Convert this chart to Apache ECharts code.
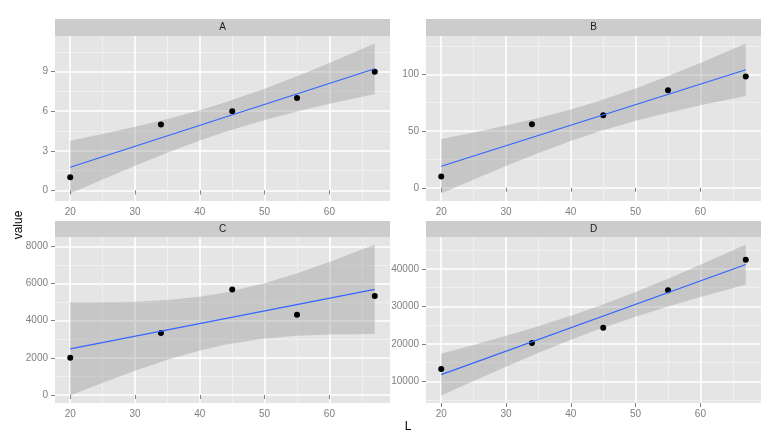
<!DOCTYPE html>
<html>
<head>
<meta charset="utf-8">
<style>
  html, body { margin: 0; padding: 0; background: #fff; }
  #main { width: 780px; height: 446px; }
</style>
<script src="https://cdn.jsdelivr.net/npm/echarts@6/dist/echarts.min.js"></script>
</head>
<body>
<div id="main"></div>
<script>
// x values shared by every facet
const xs = [20, 34, 45, 55, 67];
const fitX = [20, 67];
const bandX = [20, 25, 30, 35, 40, 44.2, 50, 55, 60, 67];

const panelNames = ["A", "B", "C", "D"];

const yA = [1, 5, 6, 7, 9];
const fitA = [1.76, 9.22];
const lowA = [-0.23, 0.83, 1.87, 2.86, 3.78, 4.49, 5.34, 5.98, 6.56, 7.30];
const upA = [3.76, 4.28, 4.82, 5.42, 6.08, 6.71, 7.70, 8.65, 9.66, 11.13];

const yB = [10, 56, 64, 86, 98];
const fitB = [19.0, 104.06];
const lowB = [-5.04, 7.30, 19.29, 30.73, 41.34, 49.38, 59.05, 66.24, 72.69, 80.97];
const upB = [43.04, 48.80, 54.91, 61.57, 69.06, 76.22, 87.55, 98.46, 110.09, 127.15];

const yC = [2000, 3330, 5680, 4320, 5330];
const fitC = [2484, 5685];
const lowC = [-22, 661, 1308, 1898, 2401, 2732, 3041, 3188, 3258, 3277];
const upC = [4990, 4988, 5022, 5113, 5291, 5532, 6013, 6547, 7158, 8093];

const yD = [13300, 20200, 24300, 34300, 42500];
const fitD = [11764, 41200];
const lowD = [6204, 10096, 13908, 17593, 21084, 23816, 27258, 29959, 32491, 35860];
const upD = [17324, 19694, 22146, 24723, 27496, 30024, 33848, 37409, 41141, 46540];

// tick labels
const xTicks = [20, 30, 40, 50, 60];
const xMinor = [25, 35, 45, 55, 65];
const yTicksA = [0, 3, 6, 9], yMinorA = [1.5, 4.5, 7.5, 10.5];
const yTicksB = [0, 50, 100], yMinorB = [25, 75, 125];
const yTicksC = [0, 2000, 4000, 6000, 8000], yMinorC = [1000, 3000, 5000, 7000];
const yTicksD = [10000, 20000, 30000, 40000], yMinorD = [5000, 15000, 25000, 35000, 45000];

const panels = [
  { y: yA, fit: fitA, low: lowA, up: upA, ticks: yTicksA, minor: yMinorA, ymin: -0.8, ymax: 11.7 },
  { y: yB, fit: fitB, low: lowB, up: upB, ticks: yTicksB, minor: yMinorB, ymin: -11.65, ymax: 133.8 },
  { y: yC, fit: fitC, low: lowC, up: upC, ticks: yTicksC, minor: yMinorC, ymin: -428, ymax: 8499 },
  { y: yD, fit: fitD, low: lowD, up: upD, ticks: yTicksD, minor: yMinorD, ymin: 4187, ymax: 48557 }
];

const boxes = [
  { left: 55, top: 36, height: 165 },
  { left: 426, top: 36, height: 165 },
  { left: 55, top: 237, height: 166 },
  { left: 426, top: 237, height: 166 }
];
const boxW = 335;
const font = "Liberation Sans";
const labelGrey = "#7F7F7F";
const plain = v => String(v);

const grid = [], xAxis = [], yAxis = [], series = [], graphic = [];

panels.forEach((p, i) => {
  const b = boxes[i];
  grid.push({
    left: b.left, top: b.top, width: boxW, height: b.height,
    show: true, backgroundColor: "#E5E5E5", borderWidth: 0,
    containLabel: false, outerBoundsMode: "none"
  });

  const major = 2 * i;
  xAxis.push({
    type: "value", gridIndex: i, min: 17.65, max: 69.35,
    axisLine: { show: false },
    axisTick: { show: true, length: 4, customValues: xTicks, lineStyle: { color: labelGrey } },
    axisLabel: { customValues: xTicks, formatter: plain, margin: 6, color: labelGrey, fontSize: 10, fontFamily: font },
    splitLine: { show: true, lineStyle: { color: "#FFFFFF", width: 1.6 } }
  });
  xAxis.push({
    type: "value", gridIndex: i, min: 17.65, max: 69.35,
    axisLine: { show: false },
    axisTick: { show: false, customValues: xMinor },
    axisLabel: { show: false, customValues: xMinor },
    splitLine: { show: true, lineStyle: { color: "#F2F2F2", width: 0.8 } }
  });
  yAxis.push({
    type: "value", gridIndex: i, min: p.ymin, max: p.ymax,
    axisLine: { show: false },
    axisTick: { show: true, length: 4, customValues: p.ticks, lineStyle: { color: labelGrey } },
    axisLabel: { customValues: p.ticks, formatter: plain, margin: 7, color: labelGrey, fontSize: 10, fontFamily: font },
    splitLine: { show: true, lineStyle: { color: "#FFFFFF", width: 1.6 } }
  });
  yAxis.push({
    type: "value", gridIndex: i, min: p.ymin, max: p.ymax,
    axisLine: { show: false },
    axisTick: { show: false, customValues: p.minor },
    axisLabel: { show: false, customValues: p.minor },
    splitLine: { show: true, lineStyle: { color: "#F2F2F2", width: 0.8 } }
  });

  // confidence band as one polygon through the lower and upper edges
  series.push({
    type: "custom", xAxisIndex: major, yAxisIndex: major, silent: true,
    data: bandX.map((x, k) => [x, p.low[k], p.up[k]]),
    encode: { x: 0, y: [1, 2] },
    renderItem: function (params, api) {
      if (params.dataIndex !== 0) return;
      const lower = bandX.map((x, k) => api.coord([x, p.low[k]]));
      const upper = bandX.map((x, k) => api.coord([x, p.up[k]])).reverse();
      return {
        type: "polygon",
        shape: { points: lower.concat(upper) },
        style: { fill: "rgba(153,153,153,0.4)" }
      };
    }
  });
  // points
  series.push({
    type: "scatter", xAxisIndex: major, yAxisIndex: major,
    symbolSize: 6, itemStyle: { color: "#000000", opacity: 1 },
    data: xs.map((x, k) => [x, p.y[k]])
  });
  // fitted line
  series.push({
    type: "line", xAxisIndex: major, yAxisIndex: major,
    symbol: "none", lineStyle: { color: "#3366FF", width: 1.2 },
    data: fitX.map((x, k) => [x, p.fit[k]])
  });

  // facet strip
  const stripTop = i < 2 ? 19 : 221;
  graphic.push({
    type: "rect", left: b.left, top: stripTop,
    shape: { width: boxW, height: b.top - stripTop },
    style: { fill: "#CCCCCC" }, silent: true
  });
  graphic.push({
    type: "text", x: b.left + boxW / 2, y: stripTop + (b.top - stripTop) / 2,
    style: {
      text: panelNames[i], fill: "#1A1A1A", fontSize: 10, fontFamily: font,
      align: "center", verticalAlign: "middle"
    }, silent: true
  });
});

graphic.push({
  type: "text", x: 19, y: 225, rotation: Math.PI / 2,
  style: { text: "value", fill: "#000", fontSize: 12, fontFamily: font, align: "center", verticalAlign: "middle" }
});
graphic.push({
  type: "text", x: 408, y: 427,
  style: { text: "L", fill: "#000", fontSize: 12, fontFamily: font, align: "center", verticalAlign: "middle" }
});

const chart = echarts.init(document.getElementById("main"), null, { renderer: "canvas" });
chart.setOption({
  animation: false,
  backgroundColor: "#FFFFFF",
  grid: grid,
  xAxis: xAxis,
  yAxis: yAxis,
  series: series,
  graphic: graphic
});
</script>
</body>
</html>
